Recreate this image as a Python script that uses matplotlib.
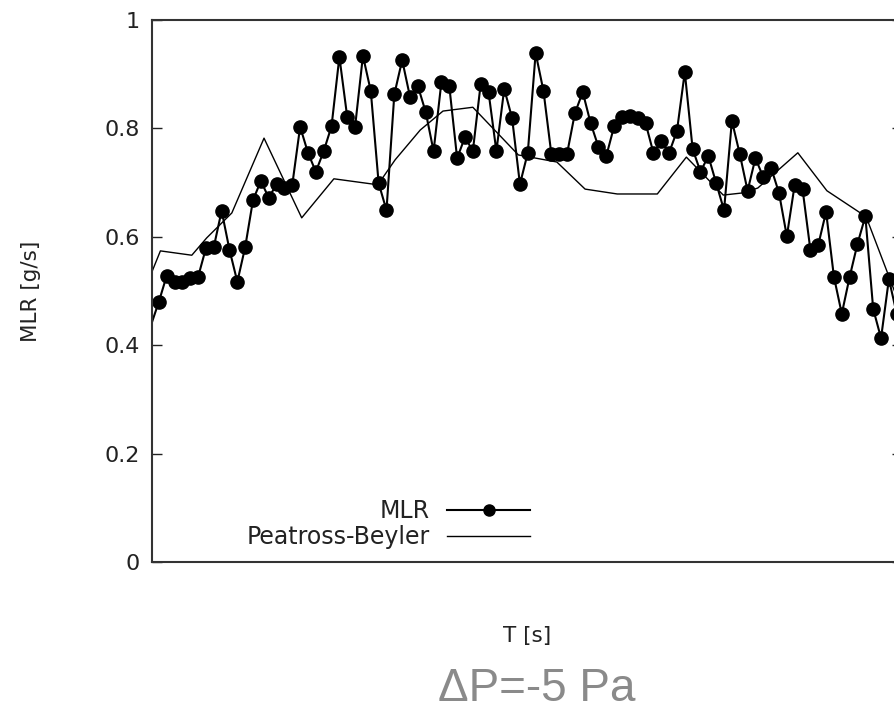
import matplotlib
matplotlib.use("Agg")
import matplotlib.pyplot as plt
from matplotlib.lines import Line2D

# ============================================
# DATA
# ============================================
# MLR samples, every 10 s
time_mlr = [
    0, 10, 20, 30, 40, 50, 60, 70, 80, 90,
    100, 110, 120, 130, 140, 150, 160, 170, 180, 190,
    200, 210, 220, 230, 240, 250, 260, 270, 280, 290,
    300, 310, 320, 330, 340, 350, 360, 370, 380, 390,
    400, 410, 420, 430, 440, 450, 460, 470, 480, 490,
    500, 510, 520, 530, 540, 550, 560, 570, 580, 590,
    600, 610, 620, 630, 640, 650, 660, 670, 680, 690,
    700, 710, 720, 730, 740, 750, 760, 770, 780, 790,
    800, 810, 820, 830, 840, 850, 860, 870, 880, 890,
    900, 910, 920, 930, 940, 950,
]
mlr = [
    0.437, 0.480, 0.528, 0.517, 0.517, 0.524, 0.526, 0.579, 0.581, 0.648,
    0.576, 0.517, 0.581, 0.668, 0.703, 0.672, 0.697, 0.690, 0.696, 0.803,
    0.755, 0.720, 0.758, 0.804, 0.932, 0.821, 0.803, 0.934, 0.869, 0.699,
    0.649, 0.863, 0.926, 0.858, 0.878, 0.830, 0.758, 0.886, 0.878, 0.745,
    0.784, 0.758, 0.882, 0.867, 0.758, 0.873, 0.819, 0.697, 0.755, 0.939,
    0.869, 0.753, 0.753, 0.753, 0.828, 0.867, 0.810, 0.766, 0.749, 0.804,
    0.821, 0.823, 0.819, 0.810, 0.755, 0.777, 0.755, 0.795, 0.904, 0.762,
    0.720, 0.749, 0.699, 0.649, 0.814, 0.753, 0.685, 0.745, 0.710, 0.727,
    0.681, 0.601, 0.696, 0.688, 0.576, 0.585, 0.646, 0.526, 0.458, 0.526,
    0.587, 0.638, 0.467, 0.413, 0.522, 0.458,
]

# Peatross-Beyler correlation
time_pb = [0, 12, 52, 71, 103, 144, 192, 233, 289, 311, 343, 372, 410,
           468, 517, 553, 594, 645, 682, 729, 754, 773, 824, 861, 911, 950]
pb = [0.531, 0.574, 0.566, 0.598, 0.644, 0.782, 0.635, 0.707, 0.696, 0.742,
      0.797, 0.832, 0.839, 0.751, 0.738, 0.688, 0.679, 0.679, 0.747, 0.677,
      0.681, 0.690, 0.755, 0.685, 0.637, 0.489]

yticks = [0, 0.2, 0.4, 0.6, 0.8, 1]
ytick_labels = ["0", "0.2", "0.4", "0.6", "0.8", "1"]

# ============================================
# PLOT
# ============================================
plt.rcParams["font.family"] = ["DejaVu Sans"]

fig = plt.figure(figsize=(8.95, 7.11), dpi=100)
ax = fig.add_axes([152 / 895, 149 / 711, 750 / 895, 542 / 711])

ax.plot(time_pb, pb, color="black", lw=1.0)
ax.plot(time_mlr, mlr, color="black", lw=1.5, marker="o", ms=9.5,
        markevery=range(1, len(mlr)))

ax.set_xlim(1.3, 956.7)
ax.set_ylim(0, 1)
ax.set_xticks([])
ax.set_yticks(yticks)
ax.set_yticklabels(ytick_labels)
ax.tick_params(axis="y", direction="in", length=7.5, width=1.0,
               labelsize=16, pad=9, right=True, colors="#222222")
for sp in ax.spines.values():
    sp.set_linewidth(1.5)
    sp.set_color("#333333")

ax.set_ylabel("MLR [g/s]", fontsize=15.5, color="#222222")
ax.yaxis.set_label_coords((41 - 152) / 750, 0.5)
ax.set_xlabel("T [s]", fontsize=15.5, color="#222222")
ax.xaxis.set_label_coords(0.5, (562 - 626) / 542)

handles = [
    Line2D([], [], color="black", lw=1.5, marker="o", ms=8),
    Line2D([], [], color="black", lw=1.0),
]
fig.legend(handles, ["MLR", "Peatross-Beyler"], loc="center right",
           bbox_to_anchor=(530 / 895, 1 - 524 / 711), frameon=False,
           markerfirst=False, fontsize=17, handlelength=3.5,
           handletextpad=0.75, labelspacing=0.1, borderpad=0,
           borderaxespad=0, labelcolor="#222222")

fig.text(537 / 895, 1 - 689 / 711, "ΔP=-5 Pa", fontsize=33, color="#8a8a8a",
         ha="center", va="center", family="Liberation Sans")

fig.savefig("out.png", dpi=100)
